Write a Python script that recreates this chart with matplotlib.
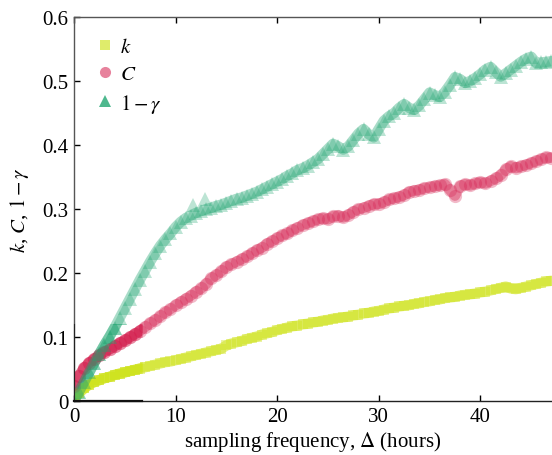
import numpy as np
import matplotlib
matplotlib.use("Agg")
import matplotlib.pyplot as plt
from matplotlib.ticker import FuncFormatter
from matplotlib.lines import Line2D

plt.rcParams['font.family'] = ['Liberation Serif', 'DejaVu Serif']
plt.rcParams['mathtext.fontset'] = 'stix'

# sampling frequency grid (hours), one point every half hour
hours = np.arange(0, 47.01, 0.5)

k_vals = [
    0.003, 0.013, 0.020, 0.026, 0.030, 0.033, 0.036, 0.038, 0.041, 0.043,
    0.045, 0.047, 0.049, 0.051, 0.053, 0.055, 0.057, 0.059, 0.061, 0.062,
    0.064, 0.066, 0.068, 0.070, 0.072, 0.074, 0.076, 0.078, 0.080, 0.082,
    0.087, 0.090, 0.092, 0.094, 0.097, 0.099, 0.101, 0.104, 0.106, 0.108,
    0.111, 0.113, 0.115, 0.117, 0.118, 0.120, 0.121, 0.123, 0.124, 0.126,
    0.127, 0.129, 0.130, 0.131, 0.132, 0.134, 0.135, 0.137, 0.138, 0.140,
    0.141, 0.143, 0.145, 0.146, 0.148, 0.149, 0.150, 0.152, 0.153, 0.155,
    0.156, 0.158, 0.159, 0.161, 0.162, 0.163, 0.165, 0.166, 0.167, 0.168,
    0.170, 0.171, 0.173, 0.175, 0.177, 0.179, 0.176, 0.175, 0.177, 0.179,
    0.181, 0.183, 0.185, 0.187, 0.188,
]

c_vals = [
    0.024, 0.040, 0.052, 0.060, 0.066, 0.072, 0.077, 0.081, 0.086, 0.091,
    0.095, 0.100, 0.105, 0.110, 0.116, 0.122, 0.127, 0.133, 0.139, 0.144,
    0.150, 0.155, 0.160, 0.165, 0.171, 0.176, 0.183, 0.192, 0.197, 0.203,
    0.210, 0.214, 0.218, 0.222, 0.226, 0.231, 0.236, 0.240, 0.246, 0.250,
    0.255, 0.259, 0.262, 0.267, 0.271, 0.275, 0.278, 0.281, 0.284, 0.286,
    0.284, 0.289, 0.290, 0.287, 0.291, 0.296, 0.300, 0.302, 0.305, 0.308,
    0.308, 0.311, 0.315, 0.317, 0.319, 0.322, 0.327, 0.329, 0.330, 0.333,
    0.334, 0.336, 0.337, 0.339, 0.330, 0.321, 0.336, 0.339, 0.337, 0.340,
    0.342, 0.340, 0.344, 0.348, 0.353, 0.362, 0.367, 0.364, 0.367, 0.369,
    0.372, 0.375, 0.378, 0.381, 0.380,
]

g_vals = [
    0.000, 0.015, 0.030, 0.045, 0.060, 0.074, 0.088, 0.101, 0.115, 0.130,
    0.145, 0.160, 0.175, 0.190, 0.204, 0.218, 0.231, 0.243, 0.253, 0.262,
    0.272, 0.280, 0.286, 0.290, 0.294, 0.297, 0.300, 0.302, 0.305, 0.307,
    0.310, 0.313, 0.316, 0.318, 0.321, 0.324, 0.327, 0.331, 0.335, 0.339,
    0.343, 0.347, 0.352, 0.356, 0.361, 0.364, 0.368, 0.373, 0.378, 0.386,
    0.394, 0.402, 0.398, 0.393, 0.398, 0.408, 0.418, 0.425, 0.417, 0.412,
    0.425, 0.438, 0.445, 0.450, 0.458, 0.464, 0.458, 0.455, 0.462, 0.472,
    0.482, 0.478, 0.475, 0.483, 0.494, 0.506, 0.503, 0.497, 0.500, 0.505,
    0.511, 0.518, 0.522, 0.514, 0.507, 0.512, 0.518, 0.524, 0.530, 0.535,
    0.538, 0.528, 0.529, 0.530, 0.531,
]

# a few stray points above the 1-gamma curve
g_out_x = [11.7, 12.9]
g_out_y = [0.307, 0.316]

col_k = '#cfe31c'
col_c = '#d41c4c'
col_g = '#22a672'

fig = plt.figure(figsize=(5.52, 4.56), dpi=100)
ax = fig.add_axes([0.134, 0.118, 0.866, 0.8425])


def draw(a, alpha):
    series = [(k_vals, 's', 7.5, col_k, 7.5, 1.35),
              (c_vals, 'o', 9.5, col_c, 7.5, 1.0),
              (g_vals, '^', 10, col_g, 7.5, 1.0)]
    for vals, mk, ms, col, lw, boost in series:
        a.plot(hours, vals, ls='-', lw=lw, color=col, alpha=min(1, alpha * 1.3 * boost),
               solid_capstyle='round', solid_joinstyle='round')
        a.plot(hours, vals, ls='none', marker=mk, ms=ms, mew=0, color=col,
               alpha=min(1, alpha * boost))
    a.plot(g_out_x, g_out_y, ls='none', marker='^', ms=10, mew=0, color=col_g, alpha=alpha)


draw(ax, 0.3)
ax.set_xlim(0, 47.05)
ax.set_ylim(0, 0.6)

# overlaid zoomed panel on the lower-left corner (darker, denser look)
ins = ax.inset_axes([0, 0, 6.7, 0.12], transform=ax.transData)
draw(ins, 0.3)
ins.set_xlim(0, 6.7)
ins.set_ylim(0, 0.12)
ins.patch.set_alpha(0)
ins.set_xticks([])
ins.set_yticks([])
for s in ['top', 'right']:
    ins.spines[s].set_visible(False)
ins.spines['left'].set_color('#222222')
ins.spines['bottom'].set_color('#111111')
ins.spines['bottom'].set_linewidth(1.6)

ax.set_xticks([0, 10, 20, 30, 40])
ax.set_yticks([0, 0.1, 0.2, 0.3, 0.4, 0.5, 0.6])
ax.yaxis.set_major_formatter(FuncFormatter(lambda v, p: f"{v:g}"))
ax.tick_params(direction='in', top=True, right=False, length=4, width=1, labelsize=15, pad=4)
for s in ['left', 'bottom', 'top']:
    ax.spines[s].set_color('#555555')
    ax.spines[s].set_linewidth(1)
ax.spines['bottom'].set_color('#222222')
ax.spines['right'].set_visible(False)

ax.set_xlabel('sampling frequency, $\\Delta$ (hours)', fontsize=15, labelpad=2)
ax.set_ylabel('$k$, $C$, $1-\\gamma$', fontsize=15, labelpad=8)

handles = [
    Line2D([], [], ls='none', marker='s', ms=6.5, mew=0, color=col_k, alpha=0.65),
    Line2D([], [], ls='none', marker='o', ms=8, mew=0, color=col_c, alpha=0.55),
    Line2D([], [], ls='none', marker='^', ms=8.5, mew=0, color=col_g, alpha=0.8),
]
ax.legend(handles, ['$k$', '$C$', '$1-\\gamma$'], loc='upper left', frameon=False,
          fontsize=15, handletextpad=0.2, labelspacing=0.35, borderaxespad=0.4,
          handlelength=1.0, borderpad=0.6)

fig.savefig('out.png', dpi=100)
